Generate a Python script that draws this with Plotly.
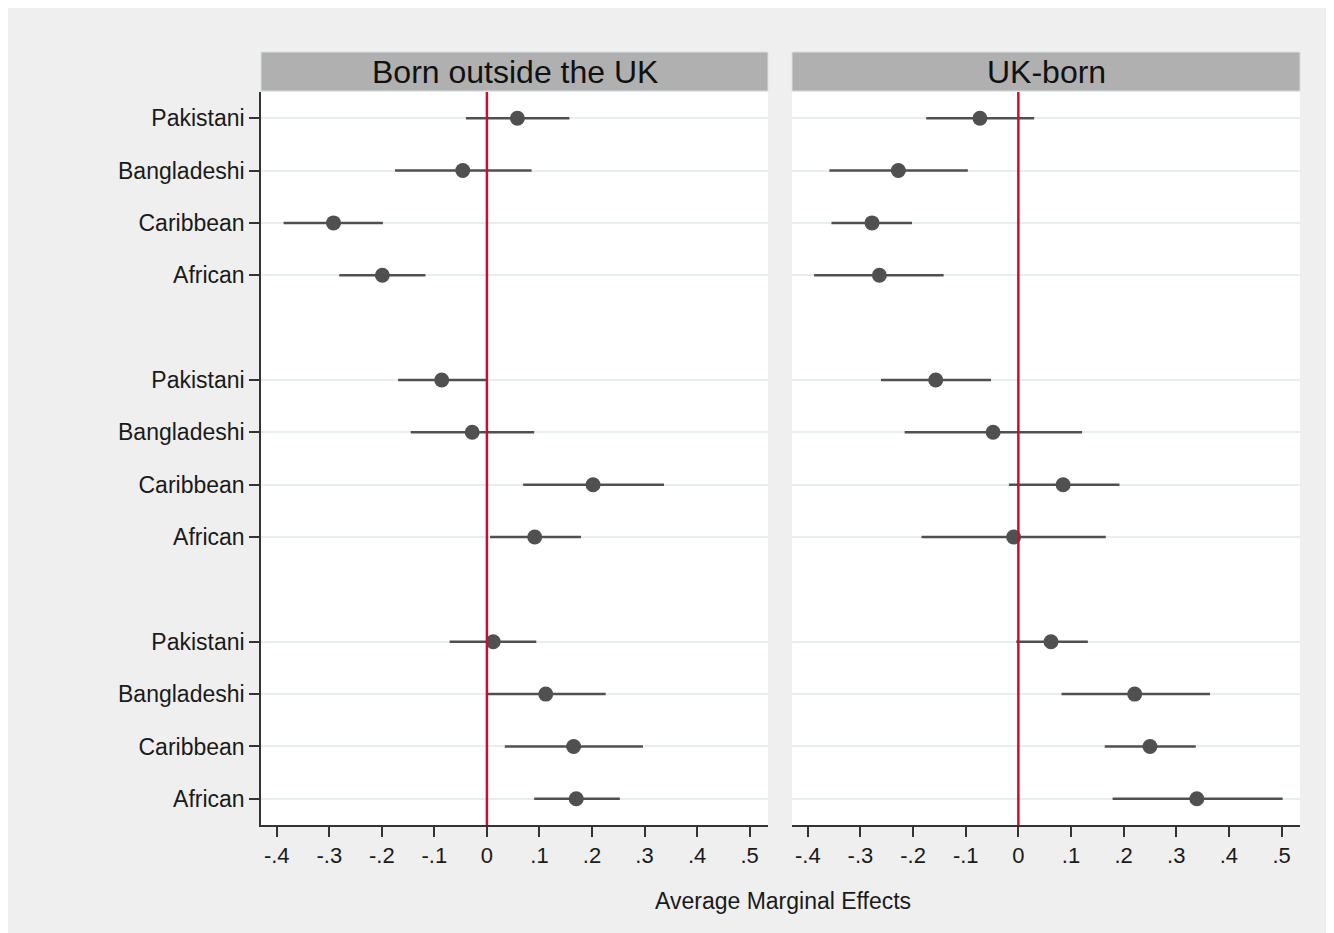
import plotly.graph_objects as go

# ---- data ----
origins = ["Pakistani", "Bangladeshi", "Caribbean", "African"]
n_groups = 3
panel_titles = ["Born outside the UK", "UK-born"]
x_tick_vals = [-0.4, -0.3, -0.2, -0.1, 0, 0.1, 0.2, 0.3, 0.4, 0.5]
x_tick_text = ["-.4", "-.3", "-.2", "-.1", "0", ".1", ".2", ".3", ".4", ".5"]
x_title = "Average Marginal Effects"

est_outside = [0.058, -0.046, -0.292, -0.199,
               -0.086, -0.028, 0.202, 0.091,
               0.012, 0.112, 0.165, 0.170]
lo_outside = [-0.040, -0.175, -0.387, -0.281,
              -0.169, -0.145, 0.069, 0.006,
              -0.071, 0.002, 0.034, 0.090]
hi_outside = [0.157, 0.085, -0.198, -0.117,
              0.000, 0.090, 0.337, 0.179,
              0.094, 0.226, 0.297, 0.253]

est_ukborn = [-0.073, -0.228, -0.278, -0.264,
              -0.157, -0.048, 0.085, -0.009,
              0.062, 0.221, 0.250, 0.339]
lo_ukborn = [-0.175, -0.359, -0.355, -0.388,
             -0.261, -0.216, -0.018, -0.184,
             -0.004, 0.082, 0.164, 0.179]
hi_ukborn = [0.030, -0.096, -0.202, -0.142,
             -0.052, 0.121, 0.192, 0.166,
             0.132, 0.364, 0.337, 0.502]

# ---- layout helpers (page pixel geometry; the page body adds an 8px offset) ----
OFF = 8
W, H = 1334, 933 - OFF
L, R = 261 - OFF, W - (1300 - OFF)
T, B = 52 - OFF, H - (825 - OFF)
PW, PH = W - L - R, H - T - B


def px_x(X):
    return (X - OFF - L) / PW


def px_y(Y):
    return (H - B - (Y - OFF)) / PH


# category positions: 4 rows per group, one blank row between groups
positions = []
labels = []
for g in range(n_groups):
    for i, o in enumerate(origins):
        positions.append(g * (len(origins) + 1) + i + 1)
        labels.append(o)

FONT = "Liberation Sans, Arial, sans-serif"
DARK = "#505050"

fig = go.Figure()
panels = [(est_outside, lo_outside, hi_outside, "x", "y"),
          (est_ukborn, lo_ukborn, hi_ukborn, "x2", "y2")]
for est, lo, hi, xa, ya in panels:
    fig.add_trace(go.Scatter(
        x=est, y=positions, mode="markers", xaxis=xa, yaxis=ya,
        marker=dict(size=15, color=DARK),
        error_x=dict(type="data", symmetric=False,
                     array=[h - e for h, e in zip(hi, est)],
                     arrayminus=[e - l for e, l in zip(est, lo)],
                     color=DARK, thickness=2.5, width=0),
        showlegend=False, hoverinfo="skip"))

x_dom1 = [0, px_x(768)]
x_dom2 = [px_x(792), 1]
y_dom = [0, px_y(92)]

xaxis_common = dict(range=[-0.43, 0.535], tickvals=x_tick_vals, ticktext=x_tick_text,
                    showgrid=False, zeroline=False, showline=True, linecolor="#333333",
                    linewidth=1.5, ticks="outside", ticklen=10, tickwidth=1.5,
                    tickcolor="#333333", tickfont=dict(family=FONT, size=22, color="#1a1a1a"))
yaxis_common = dict(range=[14.5, 0.5], tickvals=positions, showgrid=True,
                    gridcolor="#e6eef0", gridwidth=2, zeroline=False, domain=y_dom)

fig.update_layout(
    width=W, height=H,
    margin=dict(l=L, r=R, t=T, b=B, pad=0),
    paper_bgcolor="#efefef", plot_bgcolor="white",
    xaxis=dict(domain=x_dom1, anchor="y", **xaxis_common),
    xaxis2=dict(domain=x_dom2, anchor="y2", **xaxis_common),
    yaxis=dict(anchor="x", ticktext=labels, showline=True, linecolor="#333333",
               linewidth=1.5, ticks="outside", ticklen=10, tickwidth=1.5,
               tickcolor="#333333",
               tickfont=dict(family=FONT, size=23, color="#1a1a1a"), **yaxis_common),
    yaxis2=dict(anchor="x2", matches="y", showticklabels=False, showline=False,
                ticks="", **yaxis_common),
)

shapes = []
# strip headers
for (x0, x1), title in zip([x_dom1, x_dom2], panel_titles):
    shapes.append(dict(type="rect", xref="paper", yref="paper", x0=x0, x1=x1,
                       y0=px_y(91), y1=px_y(52), fillcolor="#b0b0b0",
                       line=dict(color="#d4e0e5", width=1)))
    fig.add_annotation(xref="paper", yref="paper", x=(x0 + x1) / 2, y=(px_y(91) + px_y(52)) / 2,
                       text=title, showarrow=False, xanchor="center", yanchor="middle",
                       font=dict(family=FONT, size=32, color="#111111"))
# reference lines at zero
for xa in ["x", "x2"]:
    shapes.append(dict(type="line", xref=xa, yref=("y" if xa == "x" else "y2") + " domain",
                       x0=0, x1=0, y0=0, y1=1, line=dict(color="#c8102e", width=2.5),
                       layer="above"))
fig.update_layout(shapes=shapes)

fig.add_annotation(xref="paper", yref="paper", x=px_x(783), y=px_y(901),
                   text=x_title, showarrow=False, xanchor="center", yanchor="middle",
                   font=dict(family=FONT, size=23, color="#1a1a1a"))

fig.write_html("out.html")
